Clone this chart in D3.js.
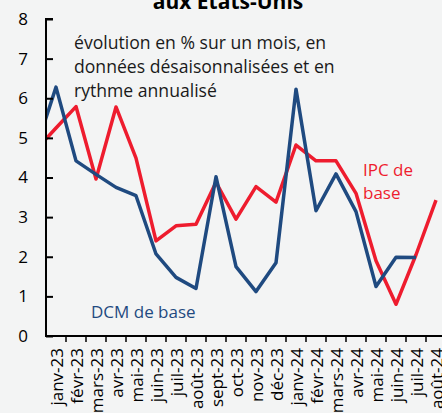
<!DOCTYPE html>
<html><head><meta charset="utf-8">
<script src="https://cdn.jsdelivr.net/npm/d3@7"></script>
<style>
html,body{margin:0;padding:0;background:#f3f4f4;}
svg{display:block;font-family:"Open Sans",sans-serif;}
</style></head>
<body><svg id="c" width="442" height="413"></svg>
<script>
// data
const priorMonth = "déc-22"; // clipped point left of the axis
const months = ["janv-23","févr-23","mars-23","avr-23","mai-23","juin-23","juil-23","août-23","sept-23","oct-23","nov-23","déc-23","janv-24","févr-24","mars-24","avr-24","mai-24","juin-24","juil-24","août-24"];
const ipcValues = [4.7, 5.25, 5.79, 3.96, 5.78, 4.49, 2.4, 2.78, 2.82, 3.88, 2.95, 3.77, 3.38, 4.82, 4.42, 4.42, 3.6, 1.9, 0.8, 2.05, 3.43];
const dcmValues = [4.73, 6.28, 4.42, 4.08, 3.75, 3.54, 2.07, 1.48, 1.2, 4.02, 1.75, 1.12, 1.85, 6.23, 3.16, 4.09, 3.14, 1.25, 1.99, 1.98, null];
const yTicks = [0,1,2,3,4,5,6,7,8];
const titleText = "aux États-Unis";
const noteLines = ["évolution en % sur un mois, en","données désaisonnalisées et en","rythme annualisé"];
const ipcLabel = ["IPC de","base"];
const dcmLabel = "DCM de base";

const svg = d3.select("#c");
const allCats = [priorMonth].concat(months);
const mLeft = 46, mBottom = 336, mTop = 19;
const x = d3.scaleBand().domain(allCats).range([mLeft-20, mLeft-20+allCats.length*20]);
const y = d3.scaleLinear().domain([0,8]).range([mBottom, mTop]);
const cx = c => x(c) + x.bandwidth()/2;

svg.append("defs").append("clipPath").attr("id","clip")
  .append("rect").attr("x", mLeft).attr("y", 0).attr("width", 442-mLeft).attr("height", 413);

// title
svg.append("text").attr("x", 228).attr("y", 9).attr("text-anchor","middle")
  .attr("font-weight","bold").attr("font-size", 21).attr("fill","#000").text(titleText);

// lines
const line = d3.line().defined(d => d.v != null).x(d => cx(d.c)).y(d => y(d.v));
const g = svg.append("g").attr("clip-path","url(#clip)");
g.append("path").datum(allCats.map((c,i)=>({c, v: ipcValues[i]})))
  .attr("d", line).attr("fill","none").attr("stroke","#ee1c2e").attr("stroke-width",3.5).attr("stroke-linejoin","round");
g.append("path").datum(allCats.map((c,i)=>({c, v: dcmValues[i]})))
  .attr("d", line).attr("fill","none").attr("stroke","#1f4a80").attr("stroke-width",3.5).attr("stroke-linejoin","round");

// y axis
const ya = svg.append("g").attr("transform", `translate(${mLeft},0)`)
  .call(d3.axisRight(y).tickValues(yTicks).tickSize(7).tickFormat(d3.format("d")));
ya.select(".domain").attr("stroke","#000").attr("stroke-width",2).attr("d", `M7,${mTop}H0V${mBottom}`);
ya.selectAll(".tick line").attr("stroke","#000").attr("stroke-width",2);
ya.selectAll(".tick text").attr("x",-18).attr("text-anchor","end").attr("font-size",17).attr("fill","#000").attr("font-family","Open Sans, sans-serif");

// x axis
const xa = svg.append("g").attr("transform", `translate(0,${mBottom})`);
xa.append("line").attr("x1", mLeft-1).attr("x2", 442).attr("y1",0).attr("y2",0).attr("stroke","#000").attr("stroke-width",2);
months.forEach(m => {
  xa.append("line").attr("x1", x(m)+20).attr("x2", x(m)+20).attr("y1",0).attr("y2",6).attr("stroke","#000").attr("stroke-width",1.5);
  xa.append("text").attr("transform", `translate(${cx(m)+6.5},12) rotate(-90)`)
    .attr("text-anchor","end").attr("font-size",17).attr("fill","#000").text(m);
});

// annotation
const note = svg.append("text").attr("font-size",17.6).attr("fill","#1a1a1a");
noteLines.forEach((t,i)=> note.append("tspan").attr("x",74).attr("y",49+i*24).text(t));

const ipcT = svg.append("text").attr("font-size",17).attr("fill","#ee1c2e");
ipcLabel.forEach((t,i)=> ipcT.append("tspan").attr("x",363).attr("y",176+i*23).text(t));
svg.append("text").attr("x",91).attr("y",318).attr("font-size",17).attr("fill","#1f4a80").text(dcmLabel);
</script></body></html>
